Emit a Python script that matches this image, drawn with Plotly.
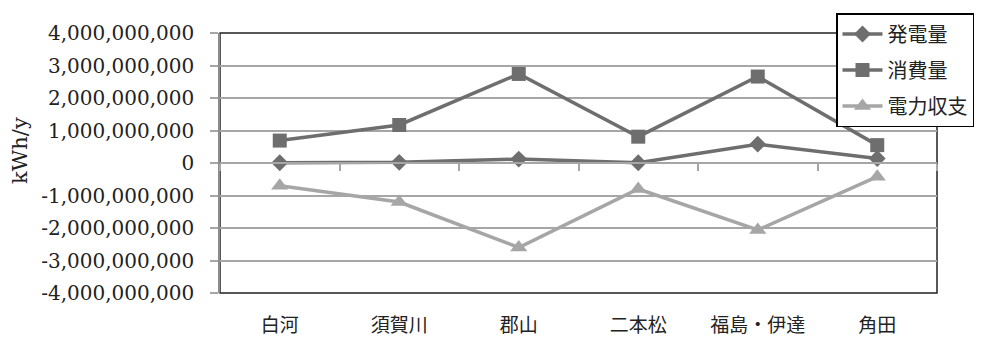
import plotly.graph_objects as go

categories = ["白河", "須賀川", "郡山", "二本松", "福島・伊達", "角田"]
generation = [0.01e9, 0.02e9, 0.12e9, 0.01e9, 0.58e9, 0.14e9]
consumption = [0.69e9, 1.17e9, 2.74e9, 0.81e9, 2.66e9, 0.55e9]
balance = [-0.70e9, -1.20e9, -2.60e9, -0.80e9, -2.06e9, -0.42e9]
ytick_vals = [4e9, 3e9, 2e9, 1e9, 0, -1e9, -2e9, -3e9, -4e9]
ytick_text = ["4,000,000,000", "3,000,000,000", "2,000,000,000", "1,000,000,000", "0",
              "-1,000,000,000", "-2,000,000,000", "-3,000,000,000", "-4,000,000,000"]

DARK = "#6e6e6e"
LIGHT = "#a6a6a6"
FONT = "DejaVu Serif, Noto Sans CJK JP"

fig = go.Figure()
fig.add_trace(go.Scatter(x=categories, y=generation, name="発電量", mode="lines+markers",
                         legendgroup="a",
                         line=dict(color=DARK, width=3.5),
                         marker=dict(symbol="diamond", size=13, color=DARK)))
fig.add_trace(go.Scatter(x=categories, y=consumption, name="消費量", mode="lines+markers",
                         legendgroup="b",
                         line=dict(color=DARK, width=3.5),
                         marker=dict(symbol="square", size=14, color=DARK)))
fig.add_trace(go.Scatter(x=categories, y=balance, name="電力収支", mode="lines+markers",
                         legendgroup="c",
                         line=dict(color=LIGHT, width=3.5),
                         marker=dict(symbol="triangle-up", size=15, color=LIGHT)))
# invisible trace to carry the zero-line axis with boundary ticks
fig.add_trace(go.Scatter(x=categories, y=generation, xaxis="x2", mode="markers",
                         marker=dict(opacity=0), showlegend=False, hoverinfo="skip"))

W, H = 994, 338
L, R, T, B = 220, 57, 33, 45
PW, PH = W - L - R, H - T - B

fig.update_layout(
    width=W, height=H,
    margin=dict(l=L, r=R, t=T, b=B, autoexpand=False),
    paper_bgcolor="white", plot_bgcolor="white",
    font=dict(family=FONT, size=20, color="#222222"),
    xaxis=dict(type="category", categoryarray=categories, range=[-0.5, 5.5],
               showgrid=False, showline=False, ticks="", zeroline=False,
               tickfont=dict(size=19), ticklabelstandoff=19),
    xaxis2=dict(type="category", categoryarray=categories, range=[-0.5, 5.5],
                overlaying="x", anchor="free", position=0.5, side="bottom",
                showgrid=False, showline=True, linecolor=LIGHT, linewidth=2,
                ticks="outside", tickson="boundaries", ticklen=7, tickwidth=1.5,
                tickcolor=LIGHT, showticklabels=False, zeroline=False),
    yaxis=dict(range=[-4e9, 4e9], tickvals=ytick_vals, ticktext=ytick_text,
               showgrid=True, gridcolor=LIGHT, gridwidth=1.5,
               zeroline=False, showline=True, linecolor="#8c8c8c", linewidth=1.5,
               ticks="outside", ticklen=8, tickcolor=LIGHT, tickwidth=1.5,
               ticklabelstandoff=12, tickfont=dict(size=20)),
    annotations=[dict(text="kWh/y", textangle=-90, xref="paper", yref="paper",
                      x=(20 - L) / PW, y=(H - B - 151) / PH,
                      xanchor="center", yanchor="middle", showarrow=False,
                      font=dict(size=21))],
    legend=dict(x=(836 - L) / PW, y=(H - B - 13) / PH,
                xanchor="left", yanchor="top",
                bgcolor="white", bordercolor="black", borderwidth=1.5,
                font=dict(size=20), itemwidth=40, tracegroupgap=7),
    shapes=[dict(type="rect", xref="paper", yref="paper", x0=0, x1=1, y0=0, y1=1,
                 line=dict(color="#222222", width=1.5), layer="below")],
    showlegend=True,
)

fig.write_html("out.html")
